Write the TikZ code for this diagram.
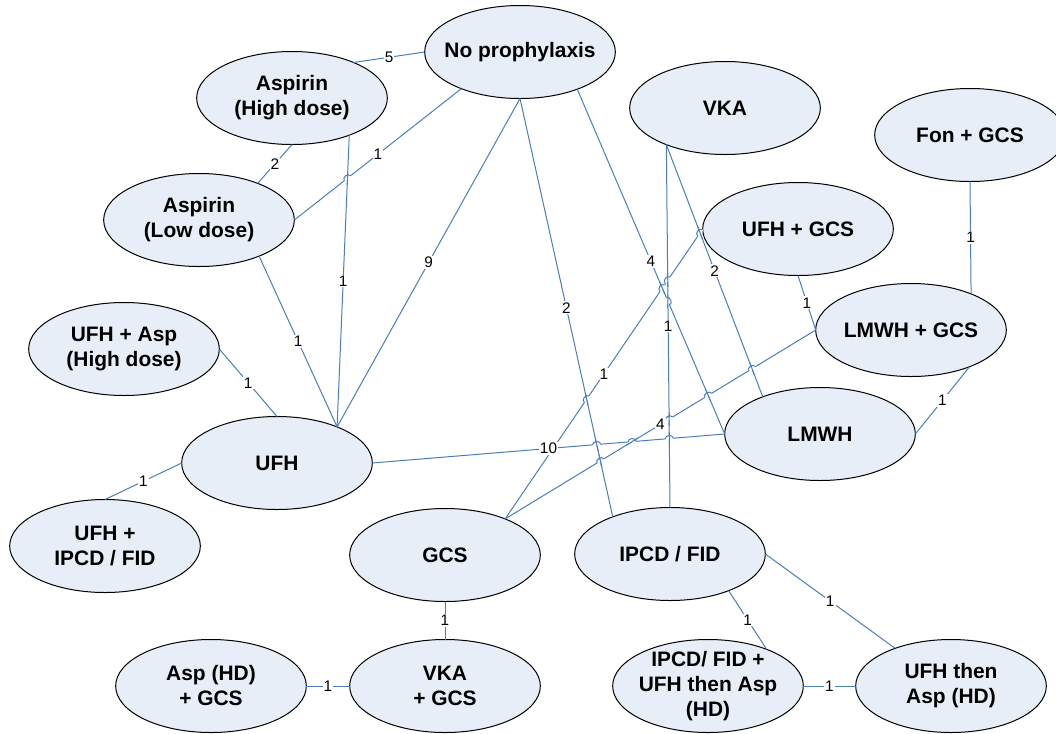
\documentclass[tikz,border=0pt]{standalone}
\usepackage{fontspec}
\setmainfont{Liberation Sans}
\usetikzlibrary{shapes.geometric,calc}
\definecolor{nodefill}{RGB}{232,238,248}
\definecolor{edgeblue}{RGB}{74,126,187}
% line jump: hop on line #1--#2 (#1 = left end) over line #3--#4
\newcommand\linehop[4]{%
  \path (intersection of #1--#2 and #3--#4) coordinate (hx);
  \draw[white, line width=1.6pt] ($(hx)!3pt!(#1)$) -- ($(hx)!3pt!(#2)$);
  \draw[edge] ($(hx)!5pt!(#3)$) -- ($(hx)!5pt!(#4)$);
  \draw[edge] ($(hx)!3pt!(#1)$) to[bend left=90, looseness=1.3] ($(hx)!3pt!(#2)$);
}
\begin{document}
\begin{tikzpicture}[x=0.75pt,y=-0.75pt,
  nd/.style={ellipse, draw=black, line width=0.75pt, fill=nodefill, minimum width=143pt, minimum height=69.75pt, inner sep=0pt, outer sep=0pt},
  txt/.style={font=\fontsize{15.7}{18.75}\selectfont\bfseries, align=center, inner sep=0pt},
  edge/.style={draw=edgeblue, line width=0.75pt},
  lbl/.style={fill=white, inner sep=0.8pt, font=\fontsize{11.5}{13}\selectfont, text=black}]
\useasboundingbox[fill=white] (0,0) rectangle (1056,733);

% nodes
\node[nd, label={[txt]center:No prophylaxis}] (nop) at (520,52) {};
\node[nd, label={[txt]center:{Aspirin\\(High dose)}}] (asphd) at (292,98) {};
\node[nd, label={[txt]center:{Aspirin\\(Low dose)}}] (aspld) at (199,220) {};
\node[nd, label={[txt]center:{UFH + Asp\\(High dose)}}] (ufhasp) at (124,349) {};
\node[nd, label={[txt]center:UFH}] (ufh) at (277,463) {};
\node[nd, label={[txt]center:{UFH +\\IPCD / FID}}] (ufhipcd) at (105,546) {};
\node[nd, label={[txt]center:GCS}] (gcs) at (445,555) {};
\node[nd, label={[txt]center:{VKA\\+ GCS}}] (vkagcs) at (445,686) {};
\node[nd, label={[txt]center:{Asp (HD)\\+ GCS}}] (aspgcs) at (211,686) {};
\node[nd, label={[txt]center:IPCD / FID}] (ipcd) at (670,554) {};
\node[nd, label={[txt]center:{IPCD/ FID +\\UFH then Asp\\(HD)}}] (ipcdufh) at (708,686) {};
\node[nd, label={[txt]center:{UFH then\\Asp (HD)}}] (ufhthen) at (951,686) {};
\node[nd, label={[txt]center:LMWH}] (lmwh) at (820,434) {};
\node[nd, label={[txt]center:LMWH + GCS}] (lmwhgcs) at (911,330) {};
\node[nd, label={[txt]center:UFH + GCS}] (ufhgcs) at (798,229) {};
\node[nd, label={[txt]center:VKA}] (vka) at (725,108) {};
\node[nd, label={[txt]center:Fon + GCS}] (fongcs) at (970,135) {};

% edges without labels first (so jumps can be drawn), then labels on top
\draw[edge] (nop.180) -- (asphd.30.5);
\draw[edge] (asphd.270) -- (aspld.32);
\draw[edge] (nop.212.5) -- (aspld.0);
\draw[edge] (asphd.327.7) -- (ufh.31.7);
\draw[edge] (aspld.329) -- (ufh.31.7);
\draw[edge] (nop.270) -- (ufh.31.7);
\draw[edge] (nop.270) -- (ipcd.147.5);
\draw[edge] (nop.327.7) -- (lmwh.180);
\draw[edge] (vka.212.5) -- (ipcd.90);
\draw[edge] (vka.212.5) -- (lmwh.147);
\draw[edge] (ufhgcs.180) -- (gcs.31.7);
\draw[edge] (lmwhgcs.180) -- (gcs.31.7);
\draw[edge] (ufh.0) -- (lmwh.180);
\draw[edge] (ufhgcs.270) -- (lmwhgcs.180);
\draw[edge] (fongcs.270) -- (lmwhgcs.31.4);
\draw[edge] (lmwh.0) -- (lmwhgcs.328);
\draw[edge] (ufhasp.0) -- (ufh.90);
\draw[edge] (ufh.180) -- (ufhipcd.90);
\draw[edge] (gcs.270) -- (vkagcs.90);
\draw[edge] (aspgcs.0) -- (vkagcs.180);
\draw[edge] (ipcd.328) -- (ipcdufh.32);
\draw[edge] (ipcd.0) -- (ufhthen.146.8);
\draw[edge] (ipcdufh.0) -- (ufhthen.180);

% line jumps
\linehop{aspld.0}{nop.212.5}{asphd.327.7}{ufh.31.7}
\linehop{gcs.31.7}{ufhgcs.180}{vka.212.5}{lmwh.147}
\linehop{gcs.31.7}{ufhgcs.180}{vka.212.5}{ipcd.90}
\linehop{gcs.31.7}{ufhgcs.180}{nop.327.7}{lmwh.180}
\linehop{gcs.31.7}{ufhgcs.180}{nop.270}{ipcd.147.5}
\linehop{nop.327.7}{lmwh.180}{vka.212.5}{ipcd.90}
\linehop{gcs.31.7}{lmwhgcs.180}{vka.212.5}{lmwh.147}
\linehop{gcs.31.7}{lmwhgcs.180}{nop.327.7}{lmwh.180}
\linehop{gcs.31.7}{lmwhgcs.180}{vka.212.5}{ipcd.90}
\linehop{gcs.31.7}{lmwhgcs.180}{nop.270}{ipcd.147.5}
\linehop{ufh.0}{lmwh.180}{nop.270}{ipcd.147.5}
\linehop{ufh.0}{lmwh.180}{gcs.31.7}{lmwhgcs.180}
\linehop{ufh.0}{lmwh.180}{vka.212.5}{ipcd.90}

% connector labels
\path (nop.180) -- node[lbl]{5} (asphd.30.5);
\path (asphd.270) -- node[lbl]{2} (aspld.32);
\path (nop.212.5) -- node[lbl]{1} (aspld.0);
\path (asphd.327.7) -- node[lbl]{1} (ufh.31.7);
\path (aspld.329) -- node[lbl]{1} (ufh.31.7);
\path (nop.270) -- node[lbl]{9} (ufh.31.7);
\path (nop.270) -- node[lbl]{2} (ipcd.147.5);
\path (nop.327.7) -- node[lbl]{4} (lmwh.180);
\path (vka.212.5) -- node[lbl]{1} (ipcd.90);
\path (vka.212.5) -- node[lbl]{2} (lmwh.147);
\path (ufhgcs.180) -- node[lbl]{1} (gcs.31.7);
\path (lmwhgcs.180) -- node[lbl]{4} (gcs.31.7);
\path (ufh.0) -- node[lbl]{10} (lmwh.180);
\path (ufhgcs.270) -- node[lbl]{1} (lmwhgcs.180);
\path (fongcs.270) -- node[lbl]{1} (lmwhgcs.31.4);
\path (lmwh.0) -- node[lbl]{1} (lmwhgcs.328);
\path (ufhasp.0) -- node[lbl]{1} (ufh.90);
\path (ufh.180) -- node[lbl]{1} (ufhipcd.90);
\path (gcs.270) -- node[lbl]{1} (vkagcs.90);
\path (aspgcs.0) -- node[lbl]{1} (vkagcs.180);
\path (ipcd.328) -- node[lbl]{1} (ipcdufh.32);
\path (ipcd.0) -- node[lbl]{1} (ufhthen.146.8);
\path (ipcdufh.0) -- node[lbl]{1} (ufhthen.180);
\end{tikzpicture}
\end{document}
